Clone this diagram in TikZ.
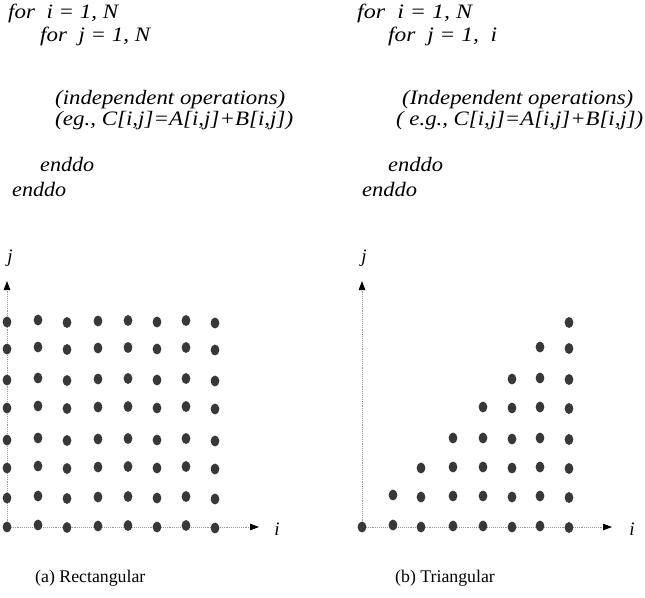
\documentclass[tikz,border=0pt]{standalone}
\usepackage{fontspec}
\setmainfont{Liberation Serif}
\usetikzlibrary{arrows.meta,shapes.geometric}
\definecolor{dotc}{HTML}{383838}
\newcommand{\codeline}[2]{\resizebox{#1}{\height}{#2}}
\tikzset{
  dot/.style={ellipse,fill=dotc,inner sep=0pt,minimum width=8.8pt,minimum height=10.8pt},
  axis/.style={draw=gray!80,densely dotted,line width=0.9pt,-{Triangle[length=9pt,width=6.5pt,color=black]}},
  code/.style={anchor=west,inner sep=0pt,font=\fontsize{20.5}{22}\selectfont\itshape},
  lbl/.style={inner sep=0pt,font=\fontsize{19}{20}\selectfont\itshape},
  captxt/.style={inner sep=0pt,font=\fontsize{17.8}{20}\selectfont}
}
\begin{document}
\begin{tikzpicture}[x=1pt,y=-1pt]
\useasboundingbox (0,0) rectangle (645,597);
% code text left
\node[code] (l1) at (8,13) {\codeline{110pt}{for\ \ i = 1, N}};
\node[code] (l2) at (40,36) {\codeline{110pt}{for\ \ j = 1, N}};
\node[code] (l3) at (55,100) {\codeline{230pt}{(independent operations)}};
\node[code] (l4) at (55,121) {\codeline{238pt}{(eg., C[i,j]=A[i,j]+B[i,j])}};
\node[code] (l5) at (40,164) {\codeline{54pt}{enddo}};
\node[code] (l6) at (12,189) {\codeline{54pt}{enddo}};
% code text right
\node[code] (r1) at (357,13) {\codeline{115pt}{for\ \ i = 1, N}};
\node[code] (r2) at (388,36) {\codeline{109pt}{for\ \ j = 1,\ \ i}};
\node[code] (r3) at (402,100) {\codeline{231pt}{(Independent operations)}};
\node[code] (r4) at (396,121) {\codeline{247pt}{( e.g., C[i,j]=A[i,j]+B[i,j])}};
\node[code] (r5) at (388,164) {\codeline{55pt}{enddo}};
\node[code] (r6) at (362,189) {\codeline{55pt}{enddo}};
% left axes
\coordinate (lo) at (7,527);
\coordinate (ly) at (7,281);
\coordinate (lx) at (259,527);
\draw[axis] (lo) -- (ly);
\draw[axis] (lo) -- (lx);
\node[lbl] (lj) at (10,258) {j};
\node[lbl] (li) at (277,529) {i};
% right axes
\coordinate (ro) at (362,527);
\coordinate (ry) at (362,281);
\coordinate (rx) at (612,527);
\draw[axis] (ro) -- (ry);
\draw[axis] (ro) -- (rx);
\node[lbl] (rj) at (364,258) {j};
\node[lbl] (ri) at (632,529) {i};
% left dots
\foreach \c/\x/\dy in {0/7/0,1/38/-2,2/67/0.5,3/98/-1,4/128/-1.5,5/157/0,6/186/-1.5,7/215/1}{
  \foreach \r/\y in {0/527,1/498,2/468,3/440,4/408,5/380,6/349,7/322}{
    \node[dot] (a-\c-\r) at (\x,\y+\dy) {};
  }
}
% right dots
\foreach \c/\x/\dy in {0/362/0,1/393/-2,2/421/0,3/453/-1,4/483/-1,5/512/0,6/540/-1,7/569/0.5}{
  \foreach \r/\y in {0/527,1/497,2/468,3/439,4/408,5/379,6/348,7/322}{
    \ifnum\r>\c\else
    \node[dot] (b-\c-\r) at (\x,\y+\dy) {};
    \fi
  }
}
% captions
\node[captxt,anchor=west] (ca) at (35,578) {(a) Rectangular};
\node[captxt,anchor=west] (cb) at (395,578) {(b) Triangular};
\end{tikzpicture}
\end{document}
